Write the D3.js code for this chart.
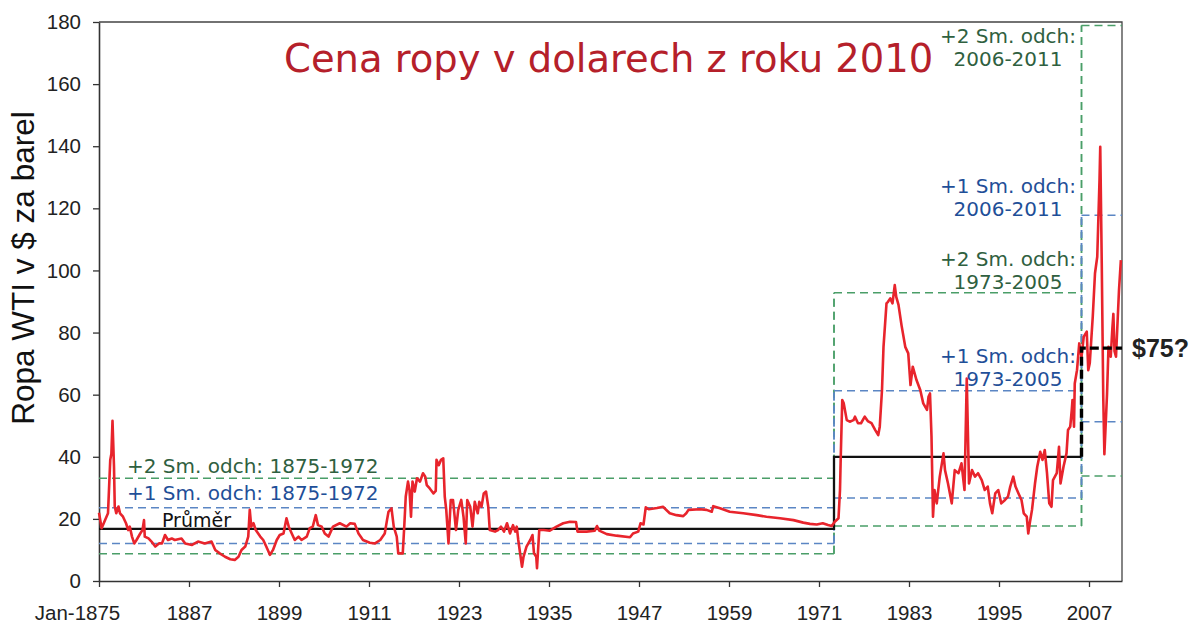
<!DOCTYPE html>
<html>
<head>
<meta charset="utf-8">
<script src="https://cdn.jsdelivr.net/npm/d3@7"></script>
<style>
  body { margin: 0; background: #ffffff; }
  svg { display: block; }
</style>
</head>
<body>
<svg id="chart" width="1197" height="625"></svg>
<script>
// WTI crude, inflation-adjusted to 2010 dollars: [year, price per barrel]
const oilPrice = [
  [1875.0, 22], [1875.35, 17], [1875.8, 19.6], [1876.2, 21.8], [1876.5, 39], [1876.65, 41],
  [1876.8, 51.6], [1877.0, 36.8], [1877.1, 24], [1877.3, 21.8], [1877.6, 24], [1877.8, 21.8],
  [1878.2, 20.7], [1878.6, 18.6], [1878.9, 16.4], [1879.1, 17.5], [1879.4, 14.3], [1879.7, 12.1],
  [1880.0, 13.2], [1880.5, 15.3], [1880.8, 16.4], [1881.0, 19.6], [1881.1, 14.3], [1881.6, 13.7],
  [1882.0, 12.7], [1882.5, 11.1], [1883.0, 12.1], [1883.4, 12.1], [1883.8, 14.8], [1884.2, 13.2],
  [1884.7, 13.7], [1885.1, 13.2], [1886.0, 13.7], [1886.5, 12.1], [1887.4, 11.6], [1888.2, 12.7],
  [1889.1, 12.1], [1890.0, 12.7], [1890.5, 10], [1891.1, 8.9], [1891.8, 7.8], [1892.5, 7.0],
  [1893.1, 6.8], [1893.6, 7.8], [1894.0, 10], [1894.5, 11.1], [1894.9, 14.3], [1895.1, 22.9],
  [1895.3, 17.5], [1895.6, 18.6], [1895.9, 16.4], [1896.5, 14.3], [1896.9, 13.2], [1897.3, 11.1],
  [1897.8, 8.4], [1898.2, 10], [1898.7, 13.2], [1899.1, 14.8], [1899.6, 15.3], [1900.0, 20.2],
  [1900.3, 17.5], [1900.7, 15.3], [1901.1, 13.2], [1901.6, 14.3], [1902.0, 13.2], [1902.7, 14.3],
  [1903.1, 17], [1903.5, 17.5], [1903.9, 21.2], [1904.2, 18], [1904.7, 17.5], [1905.1, 15.3],
  [1905.6, 14.3], [1906.2, 17.5], [1907.1, 18.6], [1908.0, 17.5], [1908.5, 18.6], [1909.1, 18.4],
  [1909.6, 15.3], [1910.2, 13.2], [1911.1, 12.3], [1911.8, 12.1], [1912.5, 13.2], [1913.1, 15.3],
  [1913.4, 19.6], [1913.6, 22.3], [1914.0, 23.4], [1914.3, 17.5], [1914.7, 14.3], [1914.9, 8.9],
  [1915.5, 8.9], [1915.7, 17.5], [1915.9, 27.2], [1916.2, 32], [1916.4, 29.3], [1916.6, 20.7],
  [1916.8, 32], [1917.1, 28.8], [1917.4, 33.1], [1917.8, 32], [1918.2, 34.7], [1918.5, 33.6],
  [1918.7, 30.9], [1919.1, 29.8], [1919.6, 28.2], [1919.9, 29], [1920.0, 39], [1920.3, 37.3],
  [1920.6, 39], [1920.9, 39.5], [1921.1, 27.2], [1921.3, 22.9], [1921.6, 12.1], [1921.9, 26.1],
  [1922.2, 26.1], [1922.6, 16.4], [1922.9, 22.9], [1923.3, 26.1], [1923.6, 20.7], [1923.9, 12.1],
  [1924.1, 26.1], [1924.5, 23.9], [1924.8, 17.5], [1925.1, 25.5], [1925.5, 21.8], [1925.7, 25.5],
  [1926.0, 23.9], [1926.3, 28.2], [1926.6, 28.8], [1926.9, 23.9], [1927.1, 16.4], [1927.8, 15.9],
  [1928.2, 16.4], [1928.6, 17.5], [1929.0, 15.9], [1929.4, 18.6], [1929.8, 15.3], [1930.2, 18],
  [1930.5, 15.9], [1930.7, 17.5], [1930.9, 13.2], [1931.4, 4.6], [1931.6, 7.8], [1932.0, 11.1],
  [1932.5, 13.2], [1932.8, 14.8], [1933.0, 8.9], [1933.3, 7.8], [1933.4, 4.1], [1933.7, 16.4],
  [1934.3, 16.4], [1935.1, 16.2], [1936.0, 17.5], [1936.9, 18.6], [1937.8, 19.1], [1938.6, 19],
  [1938.8, 15.9], [1940.0, 15.9], [1941.1, 16.2], [1941.4, 17.7], [1941.7, 16.2], [1942.7, 15.1],
  [1944.0, 14.6], [1945.8, 14.1], [1946.2, 15.3], [1946.9, 15.9], [1947.2, 18.6], [1947.6, 18.2],
  [1947.9, 23.7], [1948.3, 23.1], [1949.4, 23.5], [1950.2, 23.9], [1951.1, 21.8], [1952.0, 21.2],
  [1952.9, 20.9], [1953.3, 21.8], [1953.6, 22.9], [1955.1, 23.1], [1956.0, 22.9], [1956.7, 22.3],
  [1956.9, 24.1], [1957.8, 23.4], [1959.1, 22.3], [1960.9, 21.8], [1962.7, 21.2], [1964.0, 20.7],
  [1965.8, 20.2], [1967.6, 19.6], [1968.9, 18.8], [1969.8, 18.4], [1970.7, 18.2], [1971.5, 18.6],
  [1972.2, 18], [1972.7, 17.7], [1973.1, 19.1], [1973.6, 20.2], [1973.8, 29.3], [1973.9, 40],
  [1974.1, 58.3], [1974.3, 57.2], [1974.7, 51.8], [1975.1, 51.3], [1975.6, 51.8], [1975.8, 52.9],
  [1976.2, 50.8], [1976.6, 50.8], [1977.1, 52.9], [1977.5, 51.5], [1978.0, 50.8], [1978.5, 48.6],
  [1978.9, 47], [1979.1, 49.7], [1979.4, 61.5], [1979.6, 75.4], [1980.0, 89.4], [1980.2, 89.9],
  [1980.5, 91], [1980.8, 89.4], [1981.1, 95.3], [1981.3, 91.5], [1981.6, 88.9], [1982.0, 82.4],
  [1982.5, 75.4], [1982.9, 73.3], [1983.2, 63.1], [1983.5, 69], [1984.0, 64.7], [1984.5, 61.5],
  [1984.9, 57.2], [1985.4, 55.1], [1985.6, 59.3], [1985.8, 60.4], [1986.0, 46.5], [1986.2, 20.7],
  [1986.4, 29.3], [1986.7, 25], [1987.1, 33.6], [1987.6, 41.1], [1987.8, 35.7], [1988.2, 31.4],
  [1988.7, 25], [1989.1, 35.7], [1989.6, 34.7], [1990.0, 37.9], [1990.4, 29.3], [1990.7, 65.2],
  [1991.0, 31.4], [1991.4, 35.7], [1991.8, 33.6], [1992.2, 34.7], [1992.7, 32.5], [1993.1, 29.3],
  [1993.5, 30.4], [1993.8, 25], [1994.1, 21.8], [1994.5, 28.2], [1994.9, 29.3], [1995.3, 25],
  [1995.8, 26.1], [1996.2, 27.2], [1996.5, 30.4], [1996.9, 33.6], [1997.2, 30.4], [1997.6, 28.2],
  [1998.0, 26.1], [1998.3, 21.8], [1998.7, 20.7], [1998.9, 15.3], [1999.1, 18.6], [1999.4, 22.9],
  [1999.8, 31.4], [2000.1, 36.8], [2000.5, 41.6], [2000.8, 39], [2001.1, 42.2], [2001.4, 34.7],
  [2001.7, 25], [2002.0, 23.9], [2002.2, 32.5], [2002.7, 34.7], [2003.0, 43.2], [2003.2, 31.4],
  [2003.6, 36.8], [2004.0, 41.1], [2004.2, 48.6], [2004.5, 49.7], [2004.7, 55], [2004.8, 58.3],
  [2005.0, 49.7], [2005.1, 63.6], [2005.4, 67.9], [2005.7, 76.5], [2006.0, 72.2], [2006.3, 78.7],
  [2006.7, 80.3], [2006.9, 67.9], [2007.1, 70.1], [2007.5, 85.1], [2007.8, 99.1], [2008.1, 104.4],
  [2008.4, 129], [2008.5, 139.8], [2008.7, 102.3], [2008.9, 59.3], [2009.05, 40.8], [2009.4, 60],
  [2009.6, 75.4], [2009.9, 72.2], [2010.1, 80.8], [2010.25, 86], [2010.4, 74], [2010.6, 72.2],
  [2010.8, 83], [2011.0, 93.7], [2011.25, 103.3]
];

// Period boundaries (years) and per-period statistics
const periodBreaks = [1875, 1973, 2006, 2011.4];
const periodNames = ["1875-1972", "1973-2005", "2006-2011"];
const plus2Sd = [33.1, 92.8, 178.9];
const plus1Sd = [23.6, 61.3, 117.8];
const minus1Sd = [12.1, 26.7, 51.3];
const minus2Sd = [8.8, 17.7, 33.8];
const meanPrice = [16.8, 40];
const outlookPrice = 75;

const yTicks = [0, 20, 40, 60, 80, 100, 120, 140, 160, 180];
const xTickYears = [1875, 1887, 1899, 1911, 1923, 1935, 1947, 1959, 1971, 1983, 1995, 2007];
const xTickLabels = ["Jan-1875", "1887", "1899", "1911", "1923", "1935", "1947", "1959", "1971", "1983", "1995", "2007"];

const GREEN = "#4a9e68", BLUE = "#5b86c4", RED = "#e8242c";
const GREEN_TEXT = "#2f6040", BLUE_TEXT = "#1f4f98";

const svg = d3.select("#chart");
const x = d3.scaleLinear().domain([periodBreaks[0], periodBreaks[3]]).range([99, 1122]);
const y = d3.scaleLinear().domain([0, 180]).range([581, 22]);

// Plot frame (top and right edges)
svg.append("path")
  .attr("d", `M${x.range()[0]},${y(180)}H${x.range()[1]}V${y(0)}`)
  .attr("fill", "none").attr("stroke", "#444").attr("stroke-width", 1.3);

// Axes
const yAxis = svg.append("g").attr("transform", `translate(${x.range()[0]},0)`)
  .call(d3.axisLeft(y).tickValues(yTicks).tickSize(6).tickSizeOuter(0).tickPadding(12));
const xAxis = svg.append("g").attr("transform", `translate(0,${y(0)})`)
  .call(d3.axisBottom(x).tickValues(xTickYears).tickSize(6).tickSizeOuter(0).tickPadding(18)
    .tickFormat((d, i) => xTickLabels[i]));
[yAxis, xAxis].forEach(g => {
  g.select(".domain").attr("stroke", "#333").attr("stroke-width", 1.6);
  g.selectAll(".tick line").attr("stroke", "#333").attr("stroke-width", 1.3);
  g.selectAll("text").attr("font-family", "'Liberation Sans', Arial, sans-serif")
    .attr("font-size", 20.5).attr("fill", "#222");
});
xAxis.selectAll(".tick text").filter((d, i) => i === 0).attr("dx", -22);

// Y axis title
svg.append("text")
  .attr("transform", `translate(34,268) rotate(-90)`)
  .attr("text-anchor", "middle")
  .attr("font-family", "'Liberation Sans', Arial, sans-serif")
  .attr("font-size", 31.5).attr("fill", "#111")
  .text("Ropa WTI v $ za barel");

// Chart title
svg.append("text")
  .attr("x", 284).attr("y", 72)
  .attr("font-family", "'DejaVu Sans', Verdana, sans-serif")
  .attr("font-size", 38.5).attr("fill", "#b5202a")
  .text("Cena ropy v dolarech z roku 2010");

// Step outline for one band series: horizontals per period joined by verticals
function bandPath(values, partner) {
  const p = d3.path();
  values.forEach((v, i) => {
    p.moveTo(x(periodBreaks[i]), y(v));
    p.lineTo(x(periodBreaks[i + 1]), y(v));
  });
  for (let i = 1; i < values.length; i++) {
    const all = [values[i - 1], values[i], partner[i - 1], partner[i]];
    p.moveTo(x(periodBreaks[i]), y(d3.min(all)));
    p.lineTo(x(periodBreaks[i]), y(d3.max(all)));
  }
  return p.toString();
}

const dashed = [
  { up: plus2Sd, down: minus2Sd, color: GREEN },
  { up: plus1Sd, down: minus1Sd, color: BLUE }
];
dashed.forEach(b => {
  [b.up, b.down].forEach((vals, k) => {
    svg.append("path")
      .attr("d", bandPath(vals, k === 0 ? b.down : b.up))
      .attr("fill", "none").attr("stroke", b.color)
      .attr("stroke-width", 1.5).attr("stroke-dasharray", "8,5");
  });
});

// Period means
const meanLine = d3.line().x(d => x(d[0])).y(d => y(d[1])).curve(d3.curveStepAfter);
svg.append("path")
  .attr("d", meanLine([[periodBreaks[0], meanPrice[0]], [periodBreaks[1], meanPrice[1]], [periodBreaks[2], meanPrice[1]]]))
  .attr("fill", "none").attr("stroke", "#111").attr("stroke-width", 2.3);

// Price series
const priceLine = d3.line().x(d => x(d[0])).y(d => y(d[1]));
svg.append("path")
  .datum(oilPrice)
  .attr("d", priceLine)
  .attr("fill", "none").attr("stroke", RED)
  .attr("stroke-width", 2.6).attr("stroke-linejoin", "round");

// Outlook level after 2006
svg.append("path")
  .attr("d", `M${x(periodBreaks[2])},${y(meanPrice[1])}V${y(outlookPrice)}H${x(periodBreaks[3])}`)
  .attr("fill", "none").attr("stroke", "#000")
  .attr("stroke-width", 3.4).attr("stroke-dasharray", "9,4");
svg.append("text")
  .attr("x", 1132).attr("y", y(outlookPrice)).attr("dy", "0.36em")
  .attr("font-family", "'Liberation Sans', Arial, sans-serif")
  .attr("font-size", 25).attr("font-weight", "bold").attr("fill", "#222")
  .text("$" + outlookPrice + "?");

// Band annotations
const noteFont = "'DejaVu Sans', Verdana, sans-serif";
svg.append("text").attr("x", 127).attr("y", 472.5)
  .attr("font-family", noteFont).attr("font-size", 20).attr("fill", GREEN_TEXT)
  .text(`+2 Sm. odch: ${periodNames[0]}`);
svg.append("text").attr("x", 127).attr("y", 499.5)
  .attr("font-family", noteFont).attr("font-size", 20).attr("fill", BLUE_TEXT)
  .text(`+1 Sm. odch: ${periodNames[0]}`);
svg.append("text").attr("x", 162).attr("y", 526.5)
  .attr("font-family", noteFont).attr("font-size", 19).attr("fill", "#111")
  .text("Průměr");

const rightNotes = [
  { head: "+2 Sm. odch:", period: periodNames[2], color: GREEN_TEXT, base: 43 },
  { head: "+1 Sm. odch:", period: periodNames[2], color: BLUE_TEXT, base: 192.5 },
  { head: "+2 Sm. odch:", period: periodNames[1], color: GREEN_TEXT, base: 265.5 },
  { head: "+1 Sm. odch:", period: periodNames[1], color: BLUE_TEXT, base: 362.5 }
];
rightNotes.forEach(n => {
  const t = svg.append("text").attr("text-anchor", "middle")
    .attr("font-family", noteFont).attr("font-size", 20).attr("fill", n.color);
  t.append("tspan").attr("x", 1008).attr("y", n.base).text(n.head);
  t.append("tspan").attr("x", 1008).attr("y", n.base + 23.3).text(n.period);
});
</script>
</body>
</html>
